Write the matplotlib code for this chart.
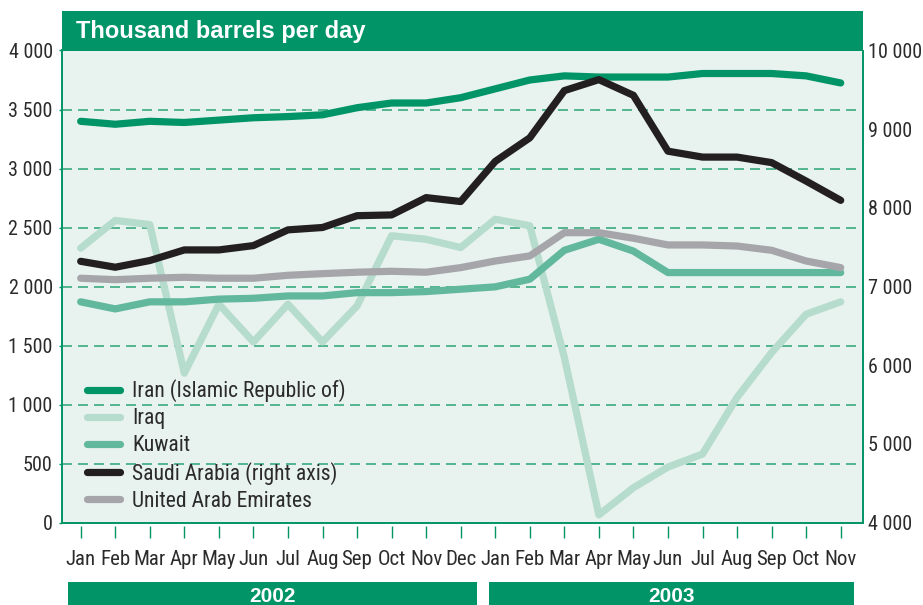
import matplotlib
matplotlib.use("Agg")
import matplotlib.pyplot as plt
from matplotlib.patches import Rectangle
from matplotlib import font_manager, transforms
from matplotlib.ticker import FixedLocator, FuncFormatter

# ---------------- data ----------------
months = ["Jan", "Feb", "Mar", "Apr", "May", "Jun", "Jul", "Aug", "Sep", "Oct", "Nov", "Dec",
          "Jan", "Feb", "Mar", "Apr", "May", "Jun", "Jul", "Aug", "Sep", "Oct", "Nov"]
year_labels = ["2002", "2003"]
year_counts = [12, 11]

iran = [3400, 3375, 3400, 3390, 3410, 3430, 3440, 3455, 3515, 3555, 3555, 3600,
        3675, 3750, 3785, 3775, 3775, 3775, 3805, 3805, 3805, 3785, 3725]
iraq = [2325, 2560, 2525, 1265, 1850, 1530, 1850, 1530, 1835, 2430, 2400, 2330,
        2570, 2515, 1400, 65, 295, 470, 580, 1060, 1440, 1765, 1870]
kuwait = [1870, 1810, 1870, 1870, 1893, 1900, 1920, 1920, 1948, 1948, 1957, 1977,
          1997, 2062, 2307, 2400, 2300, 2118, 2118, 2118, 2118, 2118, 2118]
saudi = [7320, 7245, 7330, 7465, 7465, 7520, 7720, 7750, 7900, 7910, 8130, 8080,
         8590, 8890, 9490, 9630, 9430, 8720, 8645, 8645, 8575, 8340, 8095]
uae = [2070, 2058, 2070, 2078, 2070, 2070, 2095, 2109, 2121, 2129, 2121, 2160,
       2216, 2259, 2456, 2456, 2409, 2352, 2352, 2343, 2307, 2216, 2160]

labels = ["Iran (Islamic Republic of)", "Iraq", "Kuwait",
          "Saudi Arabia (right axis)", "United Arab Emirates"]
left_ticks = [0, 500, 1000, 1500, 2000, 2500, 3000, 3500, 4000]
right_ticks = [4000, 5000, 6000, 7000, 8000, 9000, 10000]

# ---------------- style ----------------
GREEN = "#009466"
GRID = "#3aaa80"
BG = "#e8f2ee"
TXT = "#2b2b2b"
C_IRAN = "#009466"
C_IRAQ = "#b6dccd"
C_KUW = "#62b89c"
C_SAU = "#231f20"
C_UAE = "#a6a6aa"

# pick a condensed sans-serif font if one is installed
entries = font_manager.fontManager.ttflist
names = {f.name for f in entries}
narrow_path = None
for pref in ["Liberation Sans Narrow", "Roboto Condensed", "Open Sans Condensed",
             "Noto Sans Condensed", "DejaVu Sans Condensed"]:
    if pref in names:
        cands = [f for f in entries if f.name == pref and f.style == "normal"
                 and f.weight in (400, "normal", "regular")]
        if not cands:
            cands = [f for f in entries if f.name == pref]
        narrow_path = cands[0].fname
        break
if narrow_path is None:
    for f in entries:
        tag = (f.fname + f.name).lower()
        if (("condensed" in tag and "semi" not in tag and "extra" not in tag) or "narrow" in tag) \
                and f.style == "normal" and "bold" not in tag and "light" not in tag \
                and "thin" not in tag and "medium" not in tag and "black" not in tag \
                and "mono" not in tag and "serif" not in f.name.lower():
            narrow_path = f.fname
            break

SCALE = 1.0
if narrow_path is not None:
    def NP(size):
        return font_manager.FontProperties(fname=narrow_path, size=size)
else:
    SCALE = 0.82
    def NP(size):
        return font_manager.FontProperties(family="DejaVu Sans", size=size * SCALE)

BOLD_FAM = ["Liberation Sans", "DejaVu Sans"]

W, H = 923, 605
fig = plt.figure(figsize=(W / 100, H / 100), dpi=100)


def fx(px):
    return px / W


def fy(py):
    return 1 - py / H


L, R, T, B = 62, 862.7, 50.5, 522.5
ax = fig.add_axes([fx(L), fy(B), fx(R) - fx(L), fy(T) - fy(B)])
ax.set_facecolor(BG)
x = list(range(len(months)))
ax.set_xlim(-0.541, 22.637)
ax.set_ylim(left_ticks[0], left_ticks[-1])

for v in left_ticks[1:-1]:
    ax.axhline(v, color=GRID, lw=1.2, dashes=(6, 3.6), zorder=1)
ax.axhline(0, color=GREEN, lw=1.4, clip_on=False, zorder=1.5)

lw = 5.2
kw = dict(lw=lw, solid_capstyle="round", solid_joinstyle="round")
l_iran, = ax.plot(x, iran, color=C_IRAN, zorder=3, **kw)
l_iraq, = ax.plot(x, iraq, color=C_IRAQ, zorder=3, **kw)
l_kuw, = ax.plot(x, kuwait, color=C_KUW, zorder=3, **kw)
l_uae, = ax.plot(x, uae, color=C_UAE, zorder=3, **kw)

ax2 = ax.twinx()
ax2.set_ylim(right_ticks[0], right_ticks[-1])
l_sau, = ax2.plot(x, saudi, color=C_SAU, zorder=3, **kw)

fmt = FuncFormatter(lambda v, p: f"{int(v):,}".replace(",", " "))

# left axis
ax.yaxis.set_major_locator(FixedLocator(left_ticks))
ax.yaxis.set_major_formatter(fmt)
ax.tick_params(axis="y", length=2.5, width=1.0, color=GREEN, pad=4.2,
               labelcolor=TXT)
# right axis
ax2.yaxis.set_major_locator(FixedLocator(right_ticks))
ax2.yaxis.set_major_formatter(fmt)
ax2.tick_params(axis="y", length=0, pad=3.6, labelcolor=TXT)
# x axis
ax.set_xticks(x)
ax.set_xticklabels(months)
ax.tick_params(axis="x", length=8.4, width=1.0, color=GREEN, pad=9.4,
               labelcolor=TXT)
ax.spines["bottom"].set_position(("outward", 2.2))
ax.spines["bottom"].set_visible(False)
ax.spines["top"].set_visible(False)
ax.spines["left"].set_color(GREEN)
ax.spines["left"].set_linewidth(1.4)
ax.spines["right"].set_visible(False)
for s in ["top", "bottom", "left"]:
    ax2.spines[s].set_visible(False)
ax2.spines["right"].set_color(GREEN)
ax2.spines["right"].set_linewidth(1.4)

for t in ax.get_xticklabels():
    t.set_fontproperties(NP(15))
for t in ax.get_yticklabels() + ax2.get_yticklabels():
    t.set_fontproperties(NP(14.5))

# legend
leg = ax2.legend([l_iran, l_iraq, l_kuw, l_sau, l_uae], labels,
                 loc="upper left", bbox_to_anchor=(0.0306, 0.303),
                 frameon=False, prop=NP(15.6), handlelength=1.55, handletextpad=0.55,
                 labelspacing=0.27, borderpad=0, borderaxespad=0, labelcolor=TXT)

# title bar
fig.add_artist(Rectangle((fx(62), fy(50.7)), fx(862.7) - fx(62), fy(11) - fy(50.7),
                         transform=fig.transFigure, facecolor=GREEN, edgecolor="none",
                         zorder=5))
fig.text(fx(76), fy(37.7), "Thousand barrels per day", color="white", fontsize=17,
         fontweight="bold", family=BOLD_FAM, ha="left", va="baseline", zorder=6)

# year bars
blend = transforms.blended_transform_factory(ax.transData, fig.transFigure)
start = 0
for lab, n in zip(year_labels, year_counts):
    x0 = start - 0.37
    x1 = start + n - 1 + 0.46
    if start > 0:
        x0 = start - 0.17
        x1 = start + n - 1 + 0.39
    fig.add_artist(Rectangle((x0, fy(605)), x1 - x0, fy(581.7) - fy(605),
                             transform=blend, facecolor=GREEN, edgecolor="none", zorder=5))
    fig.text((x0 + x1) / 2, fy(596), lab, transform=blend, color="white", fontsize=15,
             fontweight="bold", family=BOLD_FAM, ha="center", va="center", zorder=6)
    start += n

fig.savefig("out.png", dpi=100)
